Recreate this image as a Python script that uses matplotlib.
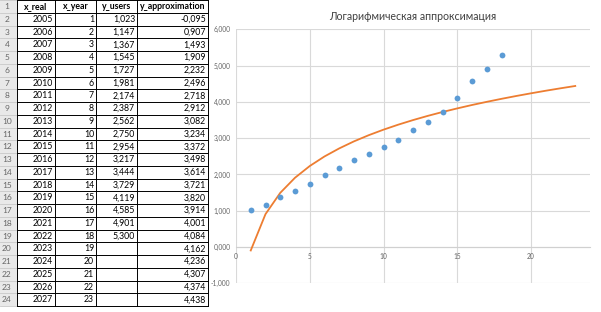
import matplotlib
matplotlib.use("Agg")
import matplotlib.pyplot as plt
from matplotlib.ticker import FuncFormatter, MultipleLocator

# ---------------- data ----------------
x_real = [2005, 2006, 2007, 2008, 2009, 2010, 2011, 2012, 2013, 2014, 2015, 2016,
          2017, 2018, 2019, 2020, 2021, 2022, 2023, 2024, 2025, 2026, 2027]
x_year = [1, 2, 3, 4, 5, 6, 7, 8, 9, 10, 11, 12, 13, 14, 15, 16, 17, 18, 19, 20, 21, 22, 23]
y_users = [1.023, 1.147, 1.367, 1.545, 1.727, 1.981, 2.174, 2.387, 2.562, 2.750,
           2.954, 3.217, 3.444, 3.729, 4.119, 4.585, 4.901, 5.300]
y_approximation = [-0.095, 0.907, 1.493, 1.909, 2.232, 2.496, 2.718, 2.912, 3.082,
                   3.234, 3.372, 3.498, 3.614, 3.721, 3.820, 3.914, 4.001, 4.084,
                   4.162, 4.236, 4.307, 4.374, 4.438]
headers = ["x_real", "x_year", "y_users", "y_approximation"]
title = "Логарифмическая аппроксимация"

FONT = ["Lato", "DejaVu Sans"]
plt.rcParams["font.family"] = FONT

W, H = 601, 312
fig = plt.figure(figsize=(W / 100, H / 100), dpi=100)


def fmt(v):
    return f"{v:.3f}".replace(".", ",")


# ---------------- spreadsheet table (pixel coordinates) ----------------
tab = fig.add_axes([0, 0, 1, 1])
tab.set_xlim(0, W)
tab.set_ylim(H, 0)
tab.axis("off")

col_edges = [0, 17, 55, 96, 137, 208]
row_h = 12.75
n_rows = len(x_real) + 1

# row-number column background
tab.add_patch(plt.Rectangle((0, 0), col_edges[1], n_rows * row_h,
                            facecolor="#e9e9e9", edgecolor="none"))
for r in range(n_rows + 1):
    y = r * row_h
    tab.plot([0, col_edges[1]], [y, y], color="#c8c8c8", lw=0.6)
    tab.plot([col_edges[1], col_edges[-1]], [y, y], color="black", lw=0.7)
for c in col_edges[1:]:
    tab.plot([c, c], [0, n_rows * row_h], color="black", lw=0.7)

ts = 6.3
for r in range(n_rows):
    yc = r * row_h + row_h / 2 + 0.3
    tab.text(7, yc, str(r + 1), ha="center", va="center", fontsize=ts - 0.3, color="#666666")
    if r == 0:
        for i, h in enumerate(headers):
            tab.text((col_edges[i + 1] + col_edges[i + 2]) / 2, yc, h, ha="center",
                     va="center", fontsize=ts, fontweight="bold", color="black")
    else:
        i = r - 1
        vals = [str(x_real[i]), str(x_year[i]),
                fmt(y_users[i]) if i < len(y_users) else "",
                fmt(y_approximation[i])]
        for k, v in enumerate(vals):
            tab.text(col_edges[k + 2] - 2, yc, v, ha="right", va="center",
                     fontsize=ts, color="black")

# ---------------- chart ----------------
left, right, top, bottom = 236, 590, 29.3, 283.3
ax = fig.add_axes([left / W, 1 - bottom / H, (right - left) / W, (bottom - top) / H])
ax.set_xlim(0, 24)
ax.set_ylim(-1, 6)
ax.xaxis.set_major_locator(MultipleLocator(5))
ax.yaxis.set_major_locator(MultipleLocator(1))
ax.yaxis.set_major_formatter(FuncFormatter(lambda v, p: fmt(v)))
ax.xaxis.set_major_formatter(FuncFormatter(lambda v, p: f"{int(round(v))}"))
ax.grid(True, color="#d9d9d9", lw=0.8)
ax.set_axisbelow(True)
for s in ["top", "right", "left"]:
    ax.spines[s].set_visible(False)
ax.spines["bottom"].set_position(("data", 0))
ax.spines["bottom"].set_color("#d0d0d0")
ax.spines["bottom"].set_linewidth(0.8)
ax.tick_params(axis="both", length=0, labelsize=4.8, colors="#666666")
ax.tick_params(axis="y", pad=4)
ax.tick_params(axis="x", pad=4)

ax.plot(x_year, y_approximation, color="#ED7D31", lw=1.3, zorder=3)
ax.plot(x_year[:len(y_users)], y_users, "o", color="#5B9BD5", ms=4.2, mew=0, zorder=4)

fig.text((left + right) / 2 / W, 1 - 16 / H, title, ha="center", va="center",
         fontsize=7.6, color="#404040")

fig.savefig("out.png", dpi=100)
